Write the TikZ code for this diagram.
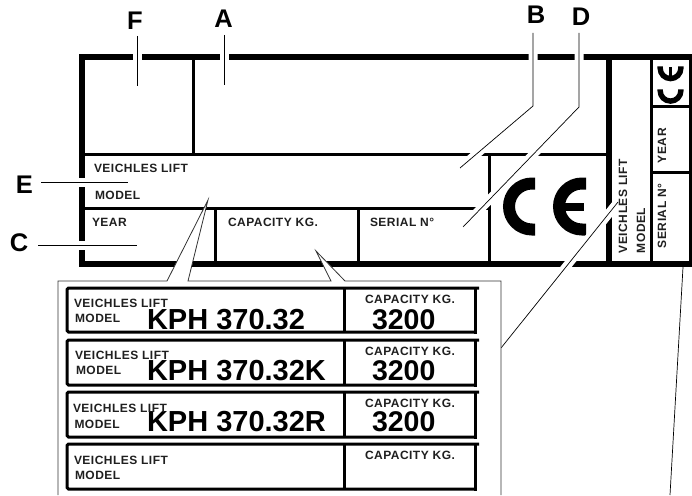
\documentclass[tikz,border=0pt]{standalone}
\usepackage{fontspec}
\setmainfont{Liberation Sans}
\newfontfamily\labfont{Liberation Sans}[LetterSpace=4]
\newcommand\drawcemark[1]{%
    \draw[line width=12pt*#1] (535,183.5) -- (532,183.5) .. controls (519.3,183.5) and (509,193.8) .. (509,206.5) .. controls (509,219.2) and (519.3,229.5) .. (532,229.5) -- (535,229.5);
    \draw[line width=12pt*#1] (586,183.5) -- (582,183.5) .. controls (569.3,183.5) and (559,193.8) .. (559,206.5) .. controls (559,219.2) and (569.3,229.5) .. (582,229.5) -- (586,229.5);
    \draw[line width=8pt*#1] (558,206.5) -- (584,206.5);
}
\tikzset{
  x=1pt,y=-1pt,
  every node/.style={inner sep=0pt,outer sep=0pt,text=black!88},
  lab/.style={anchor=base west,font=\labfont\fontsize{12}{13}\selectfont\bfseries},
  rlab/.style={lab,rotate=90},
  big/.style={anchor=base west,font=\fontsize{28.5}{30}\selectfont\bfseries,text=black},
  model no/.style={big,font=\fontsize{29}{30}\selectfont\bfseries},
  letter/.style={anchor=base,font=\fontsize{25.5}{27}\selectfont\bfseries,text=black},
  thick frame/.style={line width=6pt,line join=miter},
  rule/.style={line width=3pt},
  leader/.style={line width=0.7pt,preaction={draw=white,line width=9pt}},
  inset/.style={line width=0.8pt,draw=black!80},
  row/.style={line width=3pt,rounded corners=1.5pt},
}
\begin{document}
\begin{tikzpicture}
\useasboundingbox (0,0) rectangle (692,495);
% main plate
\draw[thick frame] (692,57) -- (82,57) -- (82,264) -- (692,264);
\draw[rule] (193,57) -- (193,154);
\draw[rule] (82,154) -- (608,154);
\draw[rule] (82,208) -- (489,208);
\draw[rule] (215,208) -- (215,264);
\draw[rule] (358,208) -- (358,264);
\draw[rule] (489,154) -- (489,264);
\draw[line width=6pt] (608.5,57) -- (608.5,264);
\draw[rule] (651.5,57) -- (651.5,264);
\draw[rule] (690.5,57) -- (690.5,264);
\draw[rule] (651.5,106) -- (690.5,106);
\draw[rule] (651.5,172) -- (690.5,172);
% CE marks
\drawcemark{1}
\begin{scope}[shift={(670.5,84)},rotate=90,scale=0.45,shift={(-547,-206.5)}]
\drawcemark{0.45}
\end{scope}
% leader ends
\coordinate (Fa) at (137,36); \coordinate (Fb) at (137,86);
\coordinate (Aa) at (224,35); \coordinate (Ab) at (224,85);
\coordinate (Ba) at (533,33); \coordinate (Bm) at (533,106); \coordinate (Bb) at (460,168);
\coordinate (Da) at (579,33); \coordinate (Dm) at (579,107); \coordinate (Db) at (463,227);
\coordinate (Ea) at (41,182); \coordinate (Eb) at (128,182);
\coordinate (Ca) at (38,245); \coordinate (Cb) at (137,245);
\coordinate (Ga) at (501,348); \coordinate (Gb) at (618,202);
\coordinate (Ha) at (683,267); \coordinate (Hb) at (670,495);
\draw[leader] (Fa) -- (Fb);
\draw[leader] (Aa) -- (Ab);
\draw[leader] (Ba) -- (Bm) -- (Bb);
\draw[leader] (Da) -- (Dm) -- (Db);
\draw[leader] (Ea) -- (Eb);
\draw[leader] (Ca) -- (Cb);
\draw[leader] (Ga) -- (Gb);
\draw[line width=0.7pt] (Ha) -- (Hb);
% inset outline with its two wedges
\fill[white] (58,495) -- (58,281) -- (167,281) -- (208,200) -- (188,281) -- (331,281) -- (316,251) -- (345,281) -- (501,281) -- (501,495) -- cycle;
\draw[inset] (58,495) -- (58,281) -- (167,281) -- (208,200) -- (188,281) -- (331,281) -- (316,251) -- (345,281) -- (501,281) -- (501,495);
% inset rows
\foreach \t/\b in {288/332,340/385,392/437,444/489}{
  \draw[row] (479,\t) -- (67,\t) -- (67,\b) -- (475,\b);
  \draw[rule] (475,\t) -- (475,\b+1.5);
  \draw[rule] (344,\t) -- (344,\b);
}
% letters
\node[letter] (lF) at (135,30) {F};
\node[letter] (lA) at (223.5,28) {A};
\node[letter] (lB) at (536,24) {B};
\node[letter] (lD) at (581,26) {D};
\node[letter] (lE) at (24.5,193) {E};
\node[letter] (lC) at (19,251) {C};
% plate texts
\node[lab] (t1) at (94,172.5) {VEICHLES LIFT};
\node[lab] (t2) at (95,199) {MODEL};
\node[lab] (t3) at (92,226) {YEAR};
\node[lab] (t4) at (228,226) {CAPACITY KG.};
\node[lab] (t5) at (370,226) {SERIAL N°};
\node[rlab] (r1) at (627,253) {VEICHLES LIFT};
\node[rlab] (r2) at (645,253) {MODEL};
\node[rlab] (r3) at (666,163) {YEAR};
\node[rlab] (r4) at (666,248) {SERIAL N°};
% inset texts
\node[model no] (k1) at (147,329) {KPH 370.32};
\node[model no] (k2) at (147,380) {KPH 370.32K};
\node[model no] (k3) at (147,431) {KPH 370.32R};
\node[big] (n1) at (372,329) {3200};
\node[big] (n2) at (372,380) {3200};
\node[big] (n3) at (372,431) {3200};
\node[lab] (v1) at (74,307) {VEICHLES LIFT};
\node[lab] (m1) at (75,322) {MODEL};
\node[lab] (c1) at (365,303) {CAPACITY KG.};
\node[lab] (v2) at (75,359) {VEICHLES LIFT};
\node[lab] (m2) at (76,374) {MODEL};
\node[lab] (c2) at (365,355) {CAPACITY KG.};
\node[lab] (v3) at (73,412) {VEICHLES LIFT};
\node[lab] (m3) at (74.5,428) {MODEL};
\node[lab] (c3) at (365,407) {CAPACITY KG.};
\node[lab] (v4) at (74,464) {VEICHLES LIFT};
\node[lab] (m4) at (75,479) {MODEL};
\node[lab] (c4) at (365,459) {CAPACITY KG.};
\end{tikzpicture}
\end{document}
